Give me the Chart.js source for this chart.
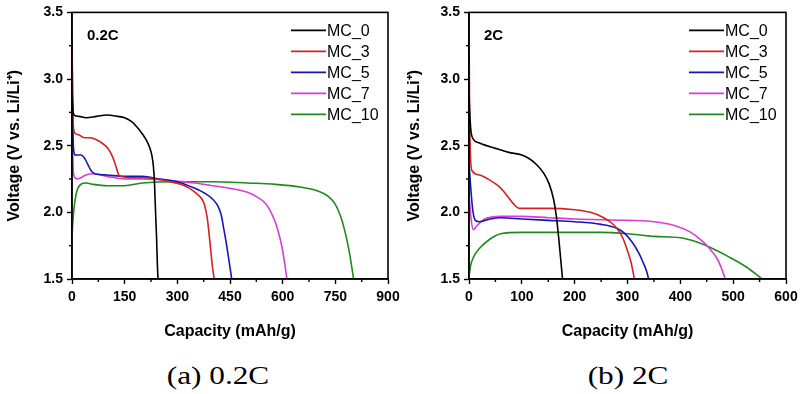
<!DOCTYPE html>
<html>
<head>
<meta charset="utf-8">
<script src="https://cdn.jsdelivr.net/npm/chart.js@4/dist/chart.umd.min.js"></script>
<style>
  body { margin: 0; background: #fff; width: 800px; height: 394px; position: relative; overflow: hidden; }
  .box { position: absolute; top: 0; width: 400px; height: 345px; }
  .cap { position: absolute; top: 361px; width: 200px; text-align: center; font-family: 'Liberation Serif', 'Times New Roman', serif; font-size: 25px; line-height: 30px; color: #000; transform: scaleX(1.25); }
</style>
</head>
<body>
<div class="box" style="left:0"><canvas id="chartA" width="400" height="345"></canvas></div>
<div class="box" style="left:400px"><canvas id="chartB" width="400" height="345"></canvas></div>
<div class="cap" style="left:118px">(a) 0.2C</div>
<div class="cap" style="left:528px">(b) 2C</div>
<script>
'use strict';

// series names and colours
const seriesNames = ['MC_0', 'MC_3', 'MC_5', 'MC_7', 'MC_10'];
const seriesColors = ['#000000', '#d42222', '#1616b8', '#d63ed6', '#1c8a1c'];

// (a) 0.2C  - capacity (mAh/g) and voltage (V)
const capA0 = [0, 1, 3, 6, 20, 40, 70, 100, 130, 150, 170, 185, 200, 212, 222, 228, 232, 235, 238, 241, 243, 245];
const voltA0 = [2.88, 2.84, 2.76, 2.73, 2.72, 2.71, 2.72, 2.73, 2.72, 2.71, 2.68, 2.64, 2.59, 2.54, 2.48, 2.42, 2.34, 2.22, 2.0, 1.8, 1.62, 1.5];
const capA3 = [0, 2, 5, 10, 20, 35, 50, 65, 80, 95, 105, 115, 122, 128, 133, 140, 160, 200, 240, 280, 310, 335, 355, 370, 378, 385, 390, 395, 400, 405];
const voltA3 = [3.32, 2.8, 2.62, 2.59, 2.58, 2.56, 2.56, 2.55, 2.53, 2.5, 2.47, 2.42, 2.37, 2.32, 2.28, 2.27, 2.26, 2.26, 2.25, 2.23, 2.21, 2.18, 2.14, 2.1, 2.05, 1.96, 1.85, 1.72, 1.59, 1.5];
const capA5 = [0, 2, 5, 10, 25, 35, 45, 55, 65, 100, 150, 200, 250, 300, 350, 380, 400, 415, 425, 432, 440, 447, 455];
const voltA5 = [3.3, 2.7, 2.46, 2.43, 2.43, 2.41, 2.36, 2.31, 2.29, 2.28, 2.27, 2.27, 2.25, 2.23, 2.18, 2.14, 2.1, 2.05, 1.98, 1.88, 1.76, 1.64, 1.5];
const capA7 = [0, 2, 5, 15, 25, 40, 60, 100, 150, 200, 270, 350, 400, 450, 500, 530, 550, 565, 580, 590, 598, 605, 612];
const voltA7 = [3.1, 2.5, 2.28, 2.25, 2.26, 2.28, 2.29, 2.27, 2.25, 2.25, 2.24, 2.22, 2.2, 2.18, 2.15, 2.11, 2.07, 2.01, 1.92, 1.83, 1.74, 1.63, 1.5];
const capA10 = [0, 3, 8, 15, 25, 40, 60, 100, 150, 200, 300, 400, 500, 580, 650, 700, 730, 750, 765, 778, 790, 802];
const voltA10 = [1.82, 1.95, 2.08, 2.17, 2.21, 2.22, 2.21, 2.2, 2.2, 2.22, 2.23, 2.23, 2.22, 2.21, 2.19, 2.16, 2.12, 2.06, 1.97, 1.85, 1.7, 1.5];

// (b) 2C
const capB0 = [0, 2, 4, 8, 20, 50, 75, 100, 115, 130, 142, 152, 160, 165, 170, 174, 177];
const voltB0 = [2.88, 2.7, 2.6, 2.55, 2.52, 2.48, 2.45, 2.43, 2.4, 2.35, 2.29, 2.21, 2.1, 1.98, 1.8, 1.63, 1.5];
const capB3 = [0, 1, 3, 6, 20, 40, 55, 65, 75, 85, 95, 120, 150, 200, 230, 255, 270, 282, 292, 300, 307, 313];
const voltB3 = [3.5, 2.8, 2.4, 2.31, 2.28, 2.24, 2.2, 2.16, 2.11, 2.06, 2.03, 2.03, 2.03, 2.02, 2.0, 1.96, 1.92, 1.87, 1.8, 1.71, 1.62, 1.5];
const capB5 = [0, 3, 7, 12, 20, 40, 60, 100, 150, 200, 250, 280, 295, 310, 322, 330, 336, 340];
const voltB5 = [2.37, 2.2, 2.02, 1.94, 1.93, 1.95, 1.96, 1.95, 1.94, 1.93, 1.91, 1.88, 1.84, 1.77, 1.69, 1.62, 1.56, 1.5];
const capB7 = [0, 4, 8, 15, 30, 60, 100, 150, 200, 300, 350, 390, 420, 440, 455, 470, 478, 485];
const voltB7 = [2.13, 1.95, 1.87, 1.9, 1.95, 1.97, 1.97, 1.96, 1.95, 1.94, 1.93, 1.9, 1.85, 1.79, 1.73, 1.65, 1.58, 1.5];
const capB10 = [0, 3, 8, 20, 40, 60, 100, 150, 200, 250, 300, 350, 400, 430, 455, 490, 525, 555];
const voltB10 = [1.52, 1.6, 1.66, 1.73, 1.8, 1.84, 1.85, 1.85, 1.85, 1.85, 1.84, 1.82, 1.81, 1.78, 1.74, 1.67, 1.59, 1.5];

const fontSans = "'Liberation Sans', Arial, sans-serif";

function makeSet(i, caps, volts) {
  let pts = [];
  for (let k = 0; k < caps.length; k++) {
    pts.push({ x: caps[k], y: volts[k] });
  }
  return {
    label: seriesNames[i],
    data: pts,
    borderColor: seriesColors[i],
    backgroundColor: seriesColors[i],
    borderWidth: 1.6,
    pointRadius: 0,
    cubicInterpolationMode: 'monotone'
  };
}

// frame, minor ticks, inner legend and rate label
const decorPlugin = {
  id: 'decor',
  afterDraw(chart) {
    const ctx = chart.ctx;
    const a = chart.chartArea;
    const xs = chart.scales.x, ys = chart.scales.y;
    ctx.save();
    ctx.strokeStyle = '#000';
    ctx.lineWidth = 1.6;
    ctx.strokeRect(a.left, a.top, a.right - a.left, a.bottom - a.top);

    // minor ticks
    ctx.lineWidth = 1.4;
    const xStep = xs.options.ticks.stepSize;
    for (let v = xStep / 2; v < xs.max; v += xStep) {
      const px = xs.getPixelForValue(v);
      ctx.beginPath(); ctx.moveTo(px, a.bottom); ctx.lineTo(px, a.bottom + 3); ctx.stroke();
    }
    const yStep = ys.options.ticks.stepSize;
    for (let v = ys.min + yStep / 2; v < ys.max; v += yStep) {
      const py = ys.getPixelForValue(v);
      ctx.beginPath(); ctx.moveTo(a.left, py); ctx.lineTo(a.left - 3, py); ctx.stroke();
    }

    // legend inside plot
    ctx.font = '16px ' + fontSans;
    ctx.textBaseline = 'middle';
    ctx.textAlign = 'left';
    chart.data.datasets.forEach((ds, i) => {
      const y = a.top + 18 + i * 21;
      const x0 = a.right - 97;
      ctx.strokeStyle = ds.borderColor;
      ctx.lineWidth = 1.8;
      ctx.beginPath(); ctx.moveTo(x0, y); ctx.lineTo(x0 + 35, y); ctx.stroke();
      ctx.fillStyle = '#000';
      ctx.fillText(ds.label, x0 + 36, y + 1);
    });

    ctx.font = 'bold 15px ' + fontSans;
    ctx.fillText(chart.options.plugins.rateLabel.text, a.left + 15, a.top + 23);
    ctx.restore();
  }
};

function makeChart(id, sets, xMax, xStep, yWidth, rightPad, rate) {
  return new Chart(document.getElementById(id), {
    type: 'line',
    data: { datasets: sets },
    plugins: [decorPlugin],
    options: {
      responsive: false,
      animation: false,
      layout: { padding: { top: 11, right: rightPad, left: 0, bottom: 0 } },
      plugins: {
        legend: { display: false },
        tooltip: { enabled: false },
        rateLabel: { text: rate }
      },
      scales: {
        x: {
          type: 'linear',
          min: 0,
          max: xMax,
          afterFit: s => { s.height = 66; s.paddingRight = 0; s.paddingLeft = 0; },
          border: { display: true, color: '#000', width: 1.6 },
          grid: { display: true, drawOnChartArea: false, drawTicks: true, tickLength: 5, color: '#000', tickWidth: 1.4 },
          ticks: { stepSize: xStep, padding: 5, color: '#000', maxRotation: 0, font: { family: fontSans, size: 14, weight: 'bold' } },
          title: { display: true, text: 'Capacity (mAh/g)', color: '#000', padding: { top: 4, bottom: 4 }, font: { family: fontSans, size: 16, weight: 'bold' } }
        },
        y: {
          min: 1.5,
          max: 3.5,
          afterFit: s => { s.width = yWidth; },
          border: { display: true, color: '#000', width: 1.6 },
          grid: { display: true, drawOnChartArea: false, drawTicks: true, tickLength: 5, color: '#000', tickWidth: 1.4 },
          ticks: { stepSize: 0.5, padding: 4, color: '#000', font: { family: fontSans, size: 14, weight: 'bold' }, callback: v => v.toFixed(1) },
          title: { display: true, text: 'Voltage (V vs. Li/Li\u207A)', color: '#000', padding: { top: 5, bottom: 0 }, font: { family: fontSans, size: 16, weight: 'bold' } }
        }
      }
    }
  });
}

makeChart('chartA', [
  makeSet(0, capA0, voltA0),
  makeSet(1, capA3, voltA3),
  makeSet(2, capA5, voltA5),
  makeSet(3, capA7, voltA7),
  makeSet(4, capA10, voltA10)
], 900, 150, 72, 12, '0.2C');

makeChart('chartB', [
  makeSet(0, capB0, voltB0),
  makeSet(1, capB3, voltB3),
  makeSet(2, capB5, voltB5),
  makeSet(3, capB7, voltB7),
  makeSet(4, capB10, voltB10)
], 600, 100, 69, 14, '2C');
</script>
</body>
</html>
